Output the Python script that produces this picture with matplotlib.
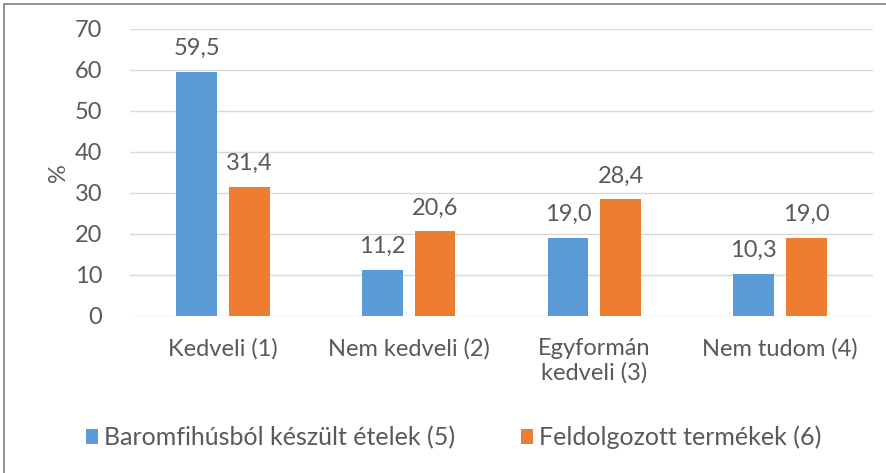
import matplotlib.pyplot as plt
import numpy as np

categories = ["Kedveli (1)", "Nem kedveli (2)", "Egyformán\nkedveli (3)", "Nem tudom (4)"]
series_names = ["Baromfihúsból készült ételek (5)", "Feldolgozott termékek (6)"]
baromfi = [59.5, 11.2, 19.0, 10.3]
feldolgozott = [31.4, 20.6, 28.4, 19.0]

blue = "#5B9BD5"
orange = "#ED7D31"
txt = "#595959"

plt.rcParams["font.family"] = ["Lato", "DejaVu Sans"]

fig = plt.figure(figsize=(8.86, 4.73), dpi=100)
ax = fig.add_axes([0.147, 0.332, 0.838, 0.607])

x = np.arange(len(categories))
w = 0.22
off = 0.142
b1 = ax.bar(x - off, baromfi, w, color=blue, label=series_names[0], zorder=3)
b2 = ax.bar(x + off, feldolgozott, w, color=orange, label=series_names[1], zorder=3)

for bars, vals in ((b1, baromfi), (b2, feldolgozott)):
    for r, v in zip(bars, vals):
        ax.text(r.get_x() + r.get_width() / 2, v + 3.2, f"{v:.1f}".replace(".", ","),
                ha="center", va="bottom", fontsize=17, color=txt)

ax.set_xlim(-0.5, 3.5)
ax.set_ylim(0, 70)
ax.set_yticks(range(0, 71, 10))
ax.yaxis.grid(True, color="#D9D9D9", linewidth=1, zorder=0)
for s in ax.spines.values():
    s.set_visible(False)
ax.tick_params(length=0, labelsize=17, colors=txt)
ax.tick_params(axis="y", pad=20)
ax.set_xticks(x)
ax.set_xticklabels(categories, linespacing=1.15)
ax.tick_params(axis="x", pad=16)
ax.set_ylabel("%", fontsize=17, color=txt, labelpad=4)

fig.legend(handles=[b1, b2], loc="center", bbox_to_anchor=(0.512, 0.075), ncol=2,
           frameon=False, fontsize=18, labelcolor=txt, handlelength=0.5,
           handleheight=0.5, handletextpad=0.25, columnspacing=2.6)

fig.patches.append(plt.Rectangle((0.005, -0.01), 1.1, 1.0025, transform=fig.transFigure,
                                 fill=False, edgecolor="#7F7F7F", linewidth=1.2))

fig.savefig("out.png", dpi=100)
